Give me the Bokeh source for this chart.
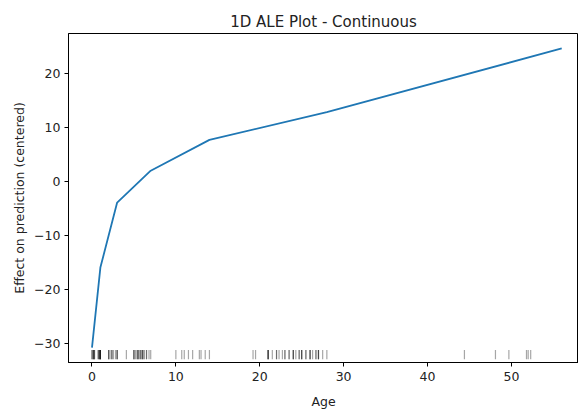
from bokeh.plotting import figure
from bokeh.models import Range1d, FixedTicker, ColumnDataSource
from bokeh.embed import file_html
from bokeh.resources import INLINE

# ALE curve (bin edges of Age -> centered effect)
ale_age = [0, 1, 3, 7, 14, 28, 56]
ale_effect = [-30.7, -15.9, -3.9, 2.0, 7.7, 12.8, 24.6]

# observed Age values for the rug
rug_ages = [0.0, 0.0, 0.1, 0.2, 0.2, 0.2, 0.3, 0.3, 0.7, 0.8, 0.8, 0.9, 0.9,
            1.0, 1.0, 1.0, 1.0, 1.0,
            2.0, 2.0, 2.0, 2.3, 2.3, 2.5, 2.5, 2.8, 3.0, 3.0, 3.0,
            4.1,
            5.0, 5.0, 5.0, 5.2, 5.4, 5.4, 5.5, 5.6, 5.6, 5.8, 5.8, 6.0, 6.0,
            6.0, 6.2, 6.2, 6.5, 6.5, 6.8, 7.0,
            10.0, 10.7, 11.0, 11.5, 12.0, 12.8, 13.0, 13.5, 14.0,
            19.2, 19.5,
            21.0, 21.0, 21.0, 21.0, 21.5, 22.0, 22.0, 22.3, 22.7, 23.0, 23.0,
            23.5, 23.5, 24.0, 24.0, 24.0, 24.3, 24.7, 24.7, 25.0, 25.0, 25.0,
            25.5, 25.5, 26.0, 26.0, 26.0, 26.3, 26.7, 26.7, 27.0, 27.0, 27.0,
            27.5, 28.0,
            44.4, 48.1, 49.7, 51.8, 52.0, 52.3]

x_ticks = [0, 10, 20, 30, 40, 50]
y_ticks = [-30, -20, -10, 0, 10, 20]

FONT = "DejaVu Sans"

y0, y1 = -33.45, 27.35
p = figure(width=578, height=415, output_backend="svg", toolbar_location=None,
           x_range=Range1d(-2.8, 58.0), y_range=Range1d(y0, y1),
           min_border_left=68, min_border_right=0, min_border_top=33,
           min_border_bottom=53, title="1D ALE Plot - Continuous")

p.background_fill_color = "white"
p.border_fill_color = "white"
p.outline_line_color = "black"
p.outline_line_width = 1
p.xgrid.visible = False
p.ygrid.visible = False

p.title.align = "center"
p.title.text_font = FONT
p.title.text_font_style = "normal"
p.title.text_font_size = "15px"
p.title.text_color = "#222222"
p.title.offset = 0
p.title.standoff = 6

# rug
rug_lo = y0 + 0.01 * (y1 - y0)
rug_hi = y0 + 0.038 * (y1 - y0)
rsrc = ColumnDataSource(dict(x=rug_ages, y0=[rug_lo] * len(rug_ages),
                             y1=[rug_hi] * len(rug_ages)))
p.segment(x0="x", y0="y0", x1="x", y1="y1", source=rsrc,
          line_color="black", line_alpha=0.35, line_width=1.2)

p.line(ale_age, ale_effect, line_color="#1f77b4", line_width=1.8)

def minus(v):
    return ("\u2212" + str(abs(v))) if v < 0 else str(v)

for ax, ticks in ((p.xaxis[0], x_ticks), (p.yaxis[0], y_ticks)):
    ax.ticker = FixedTicker(ticks=ticks)
    ax.major_label_overrides = {t: minus(t) for t in ticks}
    ax.minor_tick_line_color = None
    ax.major_tick_in = 0
    ax.major_tick_out = 4
    ax.major_tick_line_color = "black"
    ax.axis_line_color = "black"
    ax.major_label_text_font = FONT
    ax.major_label_text_font_size = "12.5px"
    ax.major_label_text_color = "#222222"
    ax.axis_label_text_font = FONT
    ax.axis_label_text_font_size = "12.5px"
    ax.axis_label_text_font_style = "normal"
    ax.axis_label_text_color = "#222222"

p.xaxis.axis_label = "Age"
p.yaxis.axis_label = "Effect on prediction (centered)"
p.xaxis.major_label_standoff = 5
p.xaxis.axis_label_standoff = 10
p.yaxis.major_label_standoff = 4
p.yaxis.axis_label_standoff = 4

open("out.html", "w").write(file_html(p, INLINE))
